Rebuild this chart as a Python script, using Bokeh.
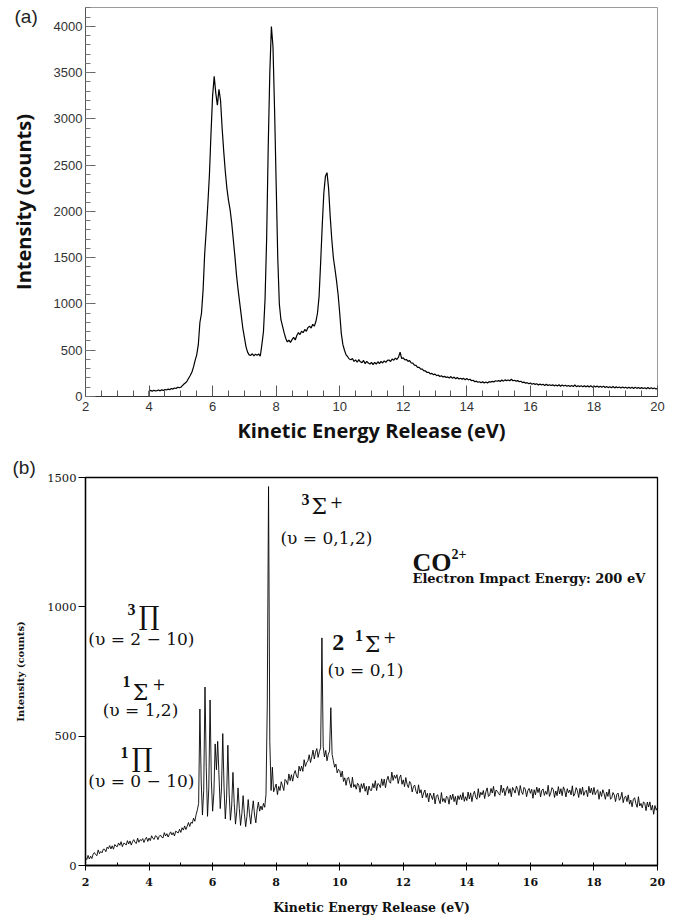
import numpy as np
from bokeh.plotting import figure
from bokeh.layouts import column
from bokeh.models import Label, FixedTicker, Range1d, Title
from bokeh.embed import file_html
from bokeh.resources import INLINE

# ---------------- data: panel (a) ----------------
ker_a_start = 4.0
ker_a_step = 0.05
counts_a = [
    58, 66, 57, 68, 60, 64, 70, 61, 72, 66, 76, 70, 80, 74, 86, 80, 92, 86, 100, 96,
    100, 118, 135, 148, 170, 200, 230, 265, 320, 390, 450, 560, 800, 900, 1150, 1540, 1800, 2080, 2400, 2850,
    3250, 3460, 3280, 3150, 3320, 3200, 2900, 2650, 2430, 2250, 2120, 2020, 1880, 1700, 1520, 1320, 1160, 1020, 880, 740,
    640, 540, 480, 450, 445, 462, 440, 458, 445, 460, 435, 560, 700, 1050, 1700, 2700, 3500, 4000, 3780, 3100,
    2300, 1500, 1000, 830, 760, 690, 630, 590, 610, 585, 615, 640, 610, 660, 690, 670, 705, 690, 725, 705,
    745, 760, 740, 780, 760, 810, 900, 1080, 1450, 1850, 2200, 2380, 2420, 2250, 1950, 1700, 1500, 1380, 1250, 1100,
    900, 680, 560, 500, 450, 430, 405, 398, 410, 380, 395, 370, 398, 375, 366, 390, 355, 380, 362, 352,
    368, 345, 370, 350, 376, 356, 380, 362, 386, 368, 390, 395, 378, 405, 392, 415, 400, 425, 480, 410,
    418, 395, 400, 380, 388, 362, 360, 340, 336, 315, 316, 296, 295, 276, 276, 260, 262, 245, 250, 236,
    242, 225, 232, 216, 224, 210, 218, 205, 212, 200, 216, 196, 210, 192, 205, 190, 198, 188, 196, 182,
    194, 180, 186, 170, 176, 160, 166, 154, 160, 148, 160, 146, 156, 146, 160, 155, 164, 158, 170, 165,
    172, 162, 178, 166, 180, 172, 178, 170, 186, 170, 176, 166, 172, 160, 165, 150, 156, 143, 150, 138,
    146, 133, 140, 131, 138, 125, 134, 124, 132, 120, 132, 118, 128, 119, 126, 115, 124, 114, 127, 111,
    124, 113, 121, 110, 120, 109, 118, 108, 124, 106, 116, 107, 117, 105, 115, 104, 116, 102, 117, 101,
    114, 102, 113, 100, 110, 99, 112, 97, 108, 96, 106, 95, 108, 93, 104, 94, 103, 92, 102, 91,
    101, 90, 100, 89, 99, 87, 101, 88, 97, 86, 96, 87, 95, 84, 97, 83, 94, 84, 92, 82, 86,
]
xticks_a = [2, 4, 6, 8, 10, 12, 14, 16, 18, 20]
yticks_a = [0, 500, 1000, 1500, 2000, 2500, 3000, 3500, 4000]

# ---------------- data: panel (b) ----------------
ker_b_start = 2.0
ker_b_step = 0.04
counts_b = [
    30, 23, 39, 25, 36, 27, 44, 50, 42, 38, 60, 46, 54, 49, 63, 63, 53, 71, 65, 77, 64, 76, 63, 81, 75,
    73, 87, 78, 92, 73, 86, 85, 79, 96, 83, 95, 79, 92, 100, 89, 85, 106, 90, 100, 96, 104, 89, 102, 109, 93,
    106, 96, 115, 105, 101, 115, 113, 100, 113, 118, 109, 107, 127, 114, 123, 110, 121, 130, 118, 127, 114, 133, 129, 126, 140,
    128, 146, 137, 153, 139, 152, 166, 151, 167, 163, 183, 171, 196, 215, 240, 605, 330, 195, 290, 690, 380, 190, 300, 640, 330,
    210, 280, 470, 370, 480, 350, 220, 300, 510, 300, 180, 260, 465, 280, 175, 230, 360, 240, 160, 210, 300, 220, 155, 200, 270,
    200, 150, 190, 255, 200, 160, 210, 250, 195, 165, 215, 245, 210, 230, 215, 240, 225, 275, 620, 1465, 480, 290, 380, 285, 300,
    315, 274, 306, 290, 324, 308, 290, 333, 327, 313, 354, 328, 351, 326, 354, 367, 346, 338, 384, 365, 384, 364, 409, 383, 398,
    405, 428, 398, 420, 446, 412, 438, 452, 418, 440, 455, 880, 460, 420, 445, 405, 430, 442, 610, 430, 405, 380, 392, 358, 372,
    367, 342, 365, 325, 339, 310, 337, 341, 317, 301, 341, 303, 313, 295, 318, 311, 283, 316, 298, 318, 287, 306, 273, 307, 291,
    290, 317, 300, 328, 290, 317, 313, 301, 335, 309, 334, 301, 330, 345, 324, 318, 361, 329, 349, 337, 351, 317, 339, 350, 314,
    331, 305, 340, 314, 301, 325, 316, 284, 305, 311, 287, 277, 312, 280, 293, 261, 280, 292, 263, 279, 246, 280, 269, 255, 280,
    238, 268, 274, 253, 239, 282, 247, 259, 243, 268, 263, 237, 272, 255, 276, 247, 267, 235, 270, 255, 273, 254, 282, 248, 266,
    251, 284, 257, 281, 247, 274, 287, 264, 256, 297, 263, 283, 273, 290, 259, 285, 300, 267, 272, 298, 280, 306, 267, 292, 287,
    278, 272, 311, 282, 299, 270, 292, 306, 279, 297, 266, 302, 292, 280, 307, 294, 271, 309, 285, 275, 302, 295, 266, 290, 298,
    279, 295, 260, 293, 273, 303, 282, 299, 265, 291, 296, 271, 287, 275, 310, 267, 280, 301, 294, 263, 288, 270, 305, 277, 297,
    270, 304, 290, 265, 297, 281, 292, 273, 308, 268, 277, 301, 289, 263, 298, 275, 303, 271, 285, 291, 266, 306, 280, 299, 274,
    302, 274, 285, 293, 256, 286, 267, 293, 278, 256, 284, 267, 295, 256, 262, 282, 272, 247, 275, 280, 252, 261, 283, 243, 264,
    268, 247, 273, 237, 253, 227, 256, 262, 239, 225, 266, 230, 240, 223, 246, 240, 212, 245, 226, 246, 214, 233, 198, 232, 214,
    225,
]
xticks_b = [2, 4, 6, 8, 10, 12, 14, 16, 18, 20]
yticks_b = [0, 500, 1000, 1500]

ker_a = [ker_a_start] + list(np.round(ker_a_start + ker_a_step * np.arange(len(counts_a)), 3))
cnt_a = [0] + counts_a
ker_b = list(np.round(ker_b_start + ker_b_step * np.arange(len(counts_b)), 3))

# ---------------- panel (a) ----------------
p1 = figure(width=677, height=455, x_range=Range1d(2, 20), y_range=Range1d(0, 4205),
            output_backend="svg", toolbar_location=None,
            min_border_left=84, min_border_right=20, min_border_top=7, min_border_bottom=59)
p1.grid.visible = False
p1.outline_line_color = "#9a9a9a"
p1.outline_line_width = 1
p1.line(ker_a, cnt_a, line_color="black", line_width=1.2)

xa = p1.xaxis[0]
xa.ticker = FixedTicker(ticks=xticks_a, minor_ticks=[v / 2 for v in range(4, 41)])
xa.axis_line_color = "#333333"
xa.major_tick_in = 11
xa.major_tick_out = 0
xa.minor_tick_in = 6
xa.minor_tick_out = 0
xa.major_tick_line_color = "#555555"
xa.minor_tick_line_color = "#555555"
xa.major_label_text_font = "Liberation Sans"
xa.major_label_text_font_size = "13px"
xa.major_label_text_color = "#333333"
xa.major_label_standoff = 5
xa.axis_label = "Kinetic Energy Release (eV)"
xa.axis_label_text_font = "Open Sans"
xa.axis_label_text_font_style = "bold"
xa.axis_label_text_font_size = "20px"
xa.axis_label_text_color = "#111111"
xa.axis_label_standoff = 3

ya = p1.yaxis[0]
ya.ticker = FixedTicker(ticks=yticks_a, minor_ticks=list(range(0, 4201, 100)))
ya.axis_line_color = "#555555"
ya.major_tick_in = 10
ya.major_tick_out = 0
ya.minor_tick_in = 5
ya.minor_tick_out = 0
ya.major_tick_line_color = "#666666"
ya.minor_tick_line_color = "#777777"
ya.major_label_text_font = "Liberation Sans"
ya.major_label_text_font_size = "13px"
ya.major_label_text_color = "#333333"
ya.major_label_standoff = 3
ya.axis_label = "Intensity (counts)"
ya.axis_label_text_font = "Open Sans"
ya.axis_label_text_font_style = "bold"
ya.axis_label_text_font_size = "20px"
ya.axis_label_text_color = "#111111"
ya.axis_label_standoff = 14

p1.add_layout(Title(text="(a)", align="left", offset=-71, standoff=-38, vertical_align="bottom",
                    text_font="Liberation Sans", text_font_size="19px",
                    text_font_style="normal", text_color="#222222"), "above")

# ---------------- panel (b) ----------------
p2 = figure(width=677, height=468, x_range=Range1d(2, 20), y_range=Range1d(0, 1500),
            output_backend="svg", toolbar_location=None,
            min_border_left=85, min_border_right=20, min_border_top=22, min_border_bottom=58)
p2.grid.visible = False
p2.outline_line_color = "black"
p2.outline_line_width = 1.3
p2.line(ker_b, counts_b, line_color="black", line_width=0.9)

xb = p2.xaxis[0]
xb.ticker = FixedTicker(ticks=xticks_b, minor_ticks=list(range(3, 20, 2)))
xb.axis_line_color = "black"
xb.axis_line_width = 1.3
xb.major_tick_in = 3
xb.major_tick_out = 5
xb.minor_tick_in = 3
xb.minor_tick_out = 0
xb.major_label_text_font = "DejaVu Serif"
xb.major_label_text_font_style = "bold"
xb.major_label_text_font_size = "11px"
xb.major_label_text_color = "#111111"
xb.major_label_standoff = 7
xb.axis_label = "Kinetic Energy Release (eV)"
xb.axis_label_text_font = "DejaVu Serif"
xb.axis_label_text_font_style = "bold"
xb.axis_label_text_font_size = "12.5px"
xb.axis_label_text_color = "#111111"
xb.axis_label_standoff = 11

yb = p2.yaxis[0]
yb.ticker = FixedTicker(ticks=yticks_b, minor_ticks=[])
yb.axis_line_color = "black"
yb.axis_line_width = 1.3
yb.major_tick_in = 0
yb.major_tick_out = 7
yb.major_label_text_font = "DejaVu Serif"
yb.major_label_text_font_size = "11.5px"
yb.major_label_text_color = "#111111"
yb.major_label_standoff = 2
yb.axis_label = "Intensity (counts)"
yb.axis_label_text_font = "DejaVu Serif"
yb.axis_label_text_font_style = "bold"
yb.axis_label_text_font_size = "10px"
yb.axis_label_text_color = "#111111"
yb.axis_label_standoff = 18

p2.add_layout(Title(text="(b)", align="left", offset=-73, standoff=-2, vertical_align="middle",
                    text_font="Liberation Sans", text_font_size="19px",
                    text_font_style="normal", text_color="#222222"), "above")


def txt(p, x, y, s, size, font="DejaVu Serif", style="normal", align="center"):
    p.add_layout(Label(x=x, y=y, text=s, text_align=align, text_baseline="middle",
                       text_font=font, text_font_size=size, text_font_style=style,
                       text_color="#111111"))


# 3Sigma+ (v = 0,1,2)
txt(p2, 8.92, 1415, "3", "16px", font="Liberation Serif", style="bold")
txt(p2, 9.36, 1386, "Σ", "22px")
txt(p2, 9.90, 1407, "+", "16px")
txt(p2, 9.58, 1266, "(υ = 0,1,2)", "17px")

# 3Pi (v = 2 - 10)
txt(p2, 3.45, 990, "3", "16px", font="Liberation Serif", style="bold")
txt(p2, 4.00, 965, "∏", "26px")
txt(p2, 3.76, 876, "(υ = 2 − 10)", "17px")

# 1Sigma+ (v = 1,2)
txt(p2, 3.29, 711, "1", "16px", font="Liberation Serif", style="bold")
txt(p2, 3.73, 667, "Σ", "22px")
txt(p2, 4.31, 702, "+", "16px")
txt(p2, 3.73, 603, "(υ = 1,2)", "17px")

# 1Pi (v = 0 - 10)
txt(p2, 3.23, 435, "1", "16px", font="Liberation Serif", style="bold")
txt(p2, 3.78, 416, "∏", "26px")
txt(p2, 3.76, 325, "(υ = 0 − 10)", "17px")

# 2 1Sigma+ (v = 0,1)
txt(p2, 9.95, 864, "2", "24px", font="Liberation Serif", style="bold")
txt(p2, 10.61, 889, "1", "16px", font="Liberation Serif", style="bold")
txt(p2, 11.03, 856, "Σ", "22px")
txt(p2, 11.57, 885, "+", "16px")
txt(p2, 10.81, 754, "(υ = 0,1)", "17px")

# CO2+ and energy note
txt(p2, 12.29, 1173, "CO", "26px", font="Liberation Serif", style="bold", align="left")
txt(p2, 13.52, 1206, "2+", "14px", font="Liberation Serif", style="bold", align="left")
txt(p2, 12.29, 1110, "Electron Impact Energy: 200 eV", "13px", font="DejaVu Serif",
    style="bold", align="left")

layout = column(p1, p2, spacing=0)
open("out.html", "w").write(file_html(layout, INLINE))
